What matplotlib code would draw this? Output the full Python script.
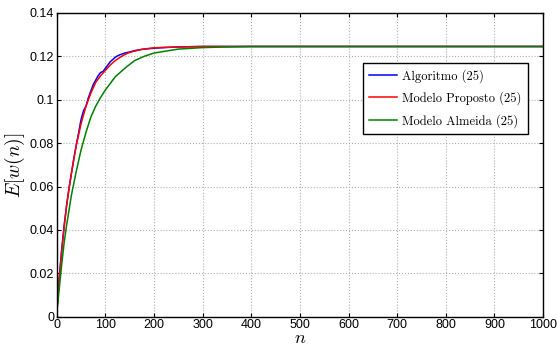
import matplotlib
matplotlib.use("Agg")
import matplotlib.pyplot as plt

# --- data ---
n_alg = [0, 5, 10, 15, 20, 25, 30, 35, 40, 45, 50, 55, 60, 65, 70, 75, 80, 85,
         90, 95, 100, 105, 110, 115, 120, 125, 130, 140, 150, 160, 170, 180,
         200, 220, 250, 300, 350, 1000]
alg = [0.002, 0.018, 0.031, 0.042, 0.051, 0.059, 0.066, 0.073, 0.079, 0.085,
       0.091, 0.095, 0.097, 0.101, 0.104, 0.107, 0.109, 0.111, 0.1125, 0.113,
       0.1145, 0.116, 0.1175, 0.1185, 0.1195, 0.1202, 0.1207, 0.1215, 0.122,
       0.1226, 0.123, 0.1233, 0.1237, 0.124, 0.1243, 0.1245, 0.1245, 0.1245]

n_prop = [0, 5, 10, 15, 20, 25, 30, 40, 50, 60, 70, 80, 90, 100, 110, 120,
          130, 140, 150, 175, 200, 250, 300, 350, 1000]
prop = [0.003, 0.017, 0.030, 0.041, 0.051, 0.059, 0.066, 0.079, 0.089, 0.097,
        0.103, 0.108, 0.111, 0.1135, 0.116, 0.118, 0.1195, 0.1208, 0.1218,
        0.1232, 0.1239, 0.1243, 0.1245, 0.1245, 0.1245]

n_alm = [0, 5, 10, 15, 20, 30, 40, 50, 60, 70, 80, 90, 100, 120, 140, 160,
         180, 200, 250, 300, 350, 400, 1000]
alm = [0.002, 0.013, 0.024, 0.034, 0.042, 0.056, 0.067, 0.077, 0.085, 0.092,
       0.097, 0.101, 0.1045, 0.1105, 0.1145, 0.118, 0.12, 0.1215, 0.1233,
       0.124, 0.1243, 0.1245, 0.1245]

labels = ["Algoritmo (25)", "Modelo Proposto (25)", "Modelo Almeida (25)"]

plt.rcParams['mathtext.fontset'] = 'cm'
plt.rcParams['font.family'] = ['Liberation Sans', 'DejaVu Sans']

fig = plt.figure(figsize=(5.57, 3.47), dpi=100)
ax = fig.add_axes([0.102, 0.087, 0.873, 0.876])

ax.plot(n_alg, alg, color='#0000ff', lw=1.1, label=labels[0])
ax.plot(n_prop, prop, color='#ff0000', lw=1.1, label=labels[1])
ax.plot(n_alm, alm, color='#008000', lw=1.1, label=labels[2])

ax.set_xlim(0, 1000)
ax.set_ylim(0, 0.14)
ax.set_xticks(range(0, 1001, 100))
ax.set_yticks([0, 0.02, 0.04, 0.06, 0.08, 0.1, 0.12, 0.14])
ax.set_yticklabels(['0', '0.02', '0.04', '0.06', '0.08', '0.1', '0.12', '0.14'])
ax.tick_params(direction='in', top=True, right=True, labelsize=9, length=3, pad=2)
ax.tick_params(axis='x', pad=1.5)
ax.grid(True, linestyle=':', color='#b0b0b0', linewidth=0.8)
for s in ax.spines.values():
    s.set_linewidth(1.0)

ax.set_xlabel('$n$', fontsize=13, labelpad=-1)
ax.set_ylabel('$E[w(n)]$', fontsize=14, labelpad=2)

leg = ax.legend(loc='upper right', bbox_to_anchor=(0.981, 0.857),
                prop={'family': 'cmr10', 'size': 9}, fancybox=False,
                edgecolor='black', framealpha=1, handlelength=2.2,
                borderpad=0.5, labelspacing=0.7, handletextpad=0.4)
leg.get_frame().set_linewidth(1.0)

fig.savefig('out.png', dpi=100)
